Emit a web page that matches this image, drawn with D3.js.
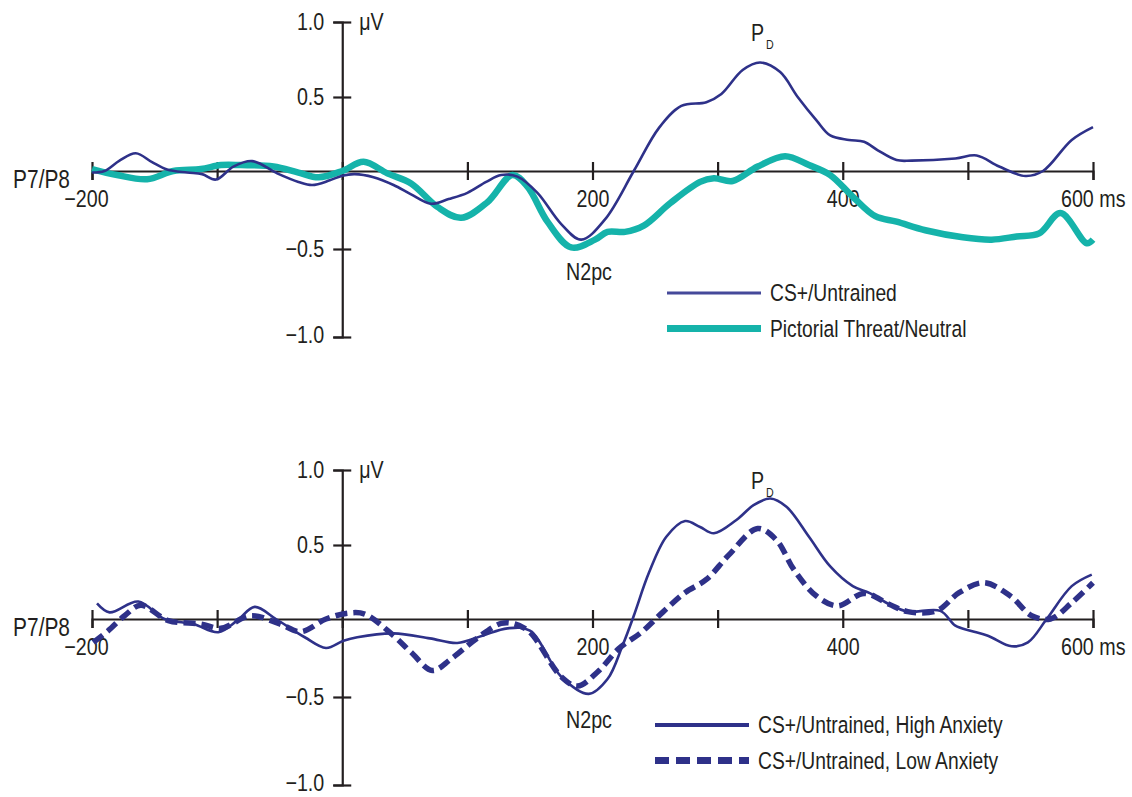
<!DOCTYPE html>
<html>
<head>
<meta charset="utf-8">
<script src="https://cdn.jsdelivr.net/npm/d3@7"></script>
<style>
  html, body { margin: 0; padding: 0; background: #fff; }
  svg text {
    font-family: "Liberation Sans", Arial, sans-serif;
    fill: #231f20;
  }
</style>
</head>
<body>
<svg id="chart" width="1132" height="797"></svg>
<script>
// ---- data (time in ms, amplitude in µV) ----
const xTicks = [-200, -100, 0, 100, 200, 300, 400, 500, 600];
const xTickLabels = { "-200": "\u2212200", "200": "200", "400": "400", "600": "600 ms" };
const yTicks = [-1, -0.5, 0.5, 1];
const yTickLabels = ["\u22121.0", "\u22120.5", "0.5", "1.0"];

// top panel
const csUntrained = [
  [-200, -0.01], [-190, 0.0], [-178, 0.07], [-165, 0.12], [-152, 0.06], [-140, 0.01],
  [-124, -0.01], [-112, -0.02], [-101, -0.055], [-87, 0.03], [-72, 0.067], [-52, -0.015],
  [-35, -0.07], [-24, -0.09], [-10, -0.06], [0, -0.03], [10, -0.02], [25, -0.04],
  [41, -0.09], [55, -0.15], [71, -0.21], [85, -0.18], [100, -0.14], [115, -0.07],
  [127, -0.026], [140, -0.036], [156, -0.14], [175, -0.34], [191, -0.44], [210, -0.31],
  [233, 0.0], [253, 0.29], [271, 0.44], [291, 0.465], [303, 0.52], [320, 0.68],
  [334, 0.73], [350, 0.666], [364, 0.5], [379, 0.342], [390, 0.24], [405, 0.21],
  [417, 0.197], [428, 0.14], [443, 0.074], [455, 0.07], [490, 0.085], [507, 0.105],
  [525, 0.03], [546, -0.032], [560, 0.0], [583, 0.21], [600, 0.297]
];
const pictorialThreat = [
  [-200, 0.013], [-180, -0.026], [-156, -0.053], [-135, 0.0], [-113, 0.013], [-97, 0.04],
  [-81, 0.04], [-55, 0.03], [-35, -0.01], [-19, -0.04], [0, 0.0], [17, 0.063],
  [36, -0.015], [55, -0.08], [76, -0.23], [95, -0.3], [116, -0.2], [136, -0.026],
  [148, -0.1], [164, -0.325], [183, -0.49], [202, -0.44], [212, -0.39], [226, -0.39],
  [241, -0.35], [262, -0.207], [286, -0.07], [297, -0.047], [312, -0.064], [332, 0.03],
  [354, 0.1], [373, 0.04], [390, -0.026], [408, -0.165], [426, -0.29], [443, -0.325],
  [466, -0.38], [496, -0.425], [519, -0.44], [539, -0.42], [557, -0.4], [574, -0.27],
  [595, -0.463], [600, -0.44]
];

// bottom panel
const highAnxiety = [
  [-196, 0.105], [-186, 0.045], [-163, 0.118], [-142, 0.0], [-119, -0.032], [-99, -0.085],
  [-84, -0.01], [-70, 0.082], [-53, 0.0], [-30, -0.117], [-13, -0.186], [1, -0.14],
  [12, -0.117], [41, -0.092], [70, -0.124], [92, -0.154], [112, -0.107], [132, -0.06],
  [150, -0.075], [175, -0.37], [197, -0.48], [212, -0.385], [224, -0.17], [233, 0.022],
  [245, 0.31], [259, 0.555], [274, 0.66], [286, 0.62], [297, 0.578], [315, 0.667],
  [329, 0.767], [342, 0.81], [355, 0.755], [373, 0.555], [390, 0.355], [408, 0.222],
  [422, 0.173], [437, 0.1], [452, 0.05], [478, 0.055], [490, -0.043], [502, -0.075],
  [516, -0.107], [535, -0.175], [548, -0.15], [563, 0.0], [583, 0.222], [599, 0.3]
];
const lowAnxiety = [
  [-199, -0.15], [-187, -0.075], [-174, 0.022], [-161, 0.093], [-139, -0.01], [-113, -0.032],
  [-97, -0.06], [-73, 0.022], [-50, -0.032], [-33, -0.081], [-13, 0.0], [5, 0.04],
  [18, 0.033], [41, -0.107], [55, -0.213], [72, -0.33], [87, -0.256], [107, -0.128],
  [127, -0.028], [138, -0.032], [150, -0.085], [175, -0.37], [188, -0.43], [204, -0.34],
  [221, -0.19], [239, -0.085], [256, 0.045], [274, 0.178], [291, 0.267], [309, 0.433],
  [332, 0.61], [347, 0.533], [361, 0.333], [379, 0.155], [396, 0.089], [417, 0.173],
  [437, 0.1], [452, 0.05], [475, 0.055], [493, 0.178], [513, 0.245], [534, 0.155],
  [551, 0.022], [566, 0.0], [583, 0.11], [600, 0.245]
];

const NAVY = "#2e3189";
const TEAL = "#15b3aa";
const INK = "#231f20";
const NARROW = 0.82; // the figure uses a condensed face; squeeze Liberation Sans to match

const svg = d3.select("#chart");
const x = d3.scaleLinear().domain([-200, 600]).range([92, 1093]);

const line = (y) => d3.line()
  .x(d => x(d[0]))
  .y(d => y(d[1]))
  .curve(d3.curveCatmullRom.alpha(0.5));

function drawPanel(top, series, legendX, legendY) {
  const g = svg.append("g");
  // tick spacing in the original figure is slightly uneven, so use a polylinear scale
  const y = d3.scaleLinear()
    .domain([-1, -0.5, 0, 0.5, 1])
    .range([top + 315, top + 227, top + 149, top + 75, top]);

  // y axis
  const yAxis = g.append("g")
    .attr("transform", `translate(${x(0)},0)`)
    .call(d3.axisLeft(y).tickValues(yTicks).tickSizeOuter(0).tickSize(9)
      .tickFormat((d, i) => yTickLabels[i]));
  yAxis.selectAll("line").attr("x2", -9).attr("x1", 9);
  yAxis.selectAll("text").attr("x", -18).style("font-size", "24px");
  // keep the lowest label inside the page
  yAxis.selectAll(".tick text").filter(d => d === -1).attr("dy", "0.22em");

  // x axis at 0 µV
  const xAxis = g.append("g")
    .attr("transform", `translate(0,${y(0)})`)
    .call(d3.axisBottom(x).tickValues(xTicks).tickSizeOuter(0).tickSize(9)
      .tickFormat(d => xTickLabels[d] || ""));
  xAxis.selectAll("line").attr("y1", -9).attr("y2", 9);
  xAxis.selectAll("text").attr("x", 0).attr("y", 19).style("font-size", "24px");
  xAxis.selectAll(".tick text").filter(d => d === -200).attr("x", -6);
  // "600 ms" is centred on its tick; anchor its right end so it stays inside the page
  xAxis.selectAll(".tick text").filter(d => d === 600)
    .attr("text-anchor", "end").attr("x", 32);

  g.selectAll(".domain, .tick line")
    .attr("stroke", INK).attr("stroke-width", 2.2);
  g.selectAll(".tick text").attr("fill", INK);
  g.selectAll("g").attr("font-family", null);

  // labels
  g.append("text").attr("x", 70).attr("y", y(0) + 8).attr("dy", "0.35em")
    .attr("text-anchor", "end").style("font-size", "25.5px").text("P7/P8");
  g.append("text").attr("x", x(0) + 17).attr("y", y(1)).attr("dy", "0.35em")
    .style("font-size", "24px").text("\u03bcV");

  g.append("text").attr("x", 751).attr("y", top + 19)
    .style("font-size", "24px").text("P");
  g.append("text").attr("x", 766).attr("y", top + 27)
    .style("font-size", "13px").text("D");

  g.append("text").attr("x", 566).attr("y", top + 258)
    .style("font-size", "24px").text("N2pc");

  // waveforms
  series.forEach(s => {
    g.append("path")
      .datum(s.data)
      .attr("fill", "none")
      .attr("stroke", s.color)
      .attr("stroke-width", s.width)
      .attr("stroke-dasharray", s.dash || null)
      .attr("stroke-linejoin", "round")
      .attr("d", line(y));
  });

  // legend
  series.slice().sort((a, b) => a.order - b.order).forEach((s, i) => {
    const ly = legendY + i * 35.5;
    g.append("line")
      .attr("x1", legendX).attr("x2", legendX + 94)
      .attr("y1", ly).attr("y2", ly)
      .attr("stroke", s.legendColor || s.color)
      .attr("stroke-width", s.legendWidth)
      .attr("stroke-dasharray", s.legendDash || null);
    g.append("text")
      .attr("x", legendX + 103).attr("y", ly).attr("dy", "0.35em")
      .style("font-size", "23.5px").text(s.name);
  });
}

drawPanel(22, [
  { name: "Pictorial Threat/Neutral", data: pictorialThreat, color: TEAL, width: 6.5, legendWidth: 7, order: 1 },
  { name: "CS+/Untrained", data: csUntrained, color: NAVY, width: 2.6, legendWidth: 3, legendColor: "#45499a", order: 0 }
], 667, 293);

drawPanel(470, [
  { name: "CS+/Untrained, High Anxiety", data: highAnxiety, color: NAVY, width: 2.6, legendWidth: 4, order: 0 },
  { name: "CS+/Untrained, Low Anxiety", data: lowAnxiety, color: NAVY, width: 5.5, dash: "12,6",
    legendWidth: 7, legendDash: "14,7", order: 1 }
], 655, 725);

// condense every label horizontally around its anchor point
svg.selectAll("text").each(function () {
  const t = d3.select(this);
  if (!t.text()) return;
  const ax = +t.attr("x") || 0;
  t.attr("transform", `translate(${ax},0) scale(${NARROW},1) translate(${-ax},0)`);
});
</script>
</body>
</html>
